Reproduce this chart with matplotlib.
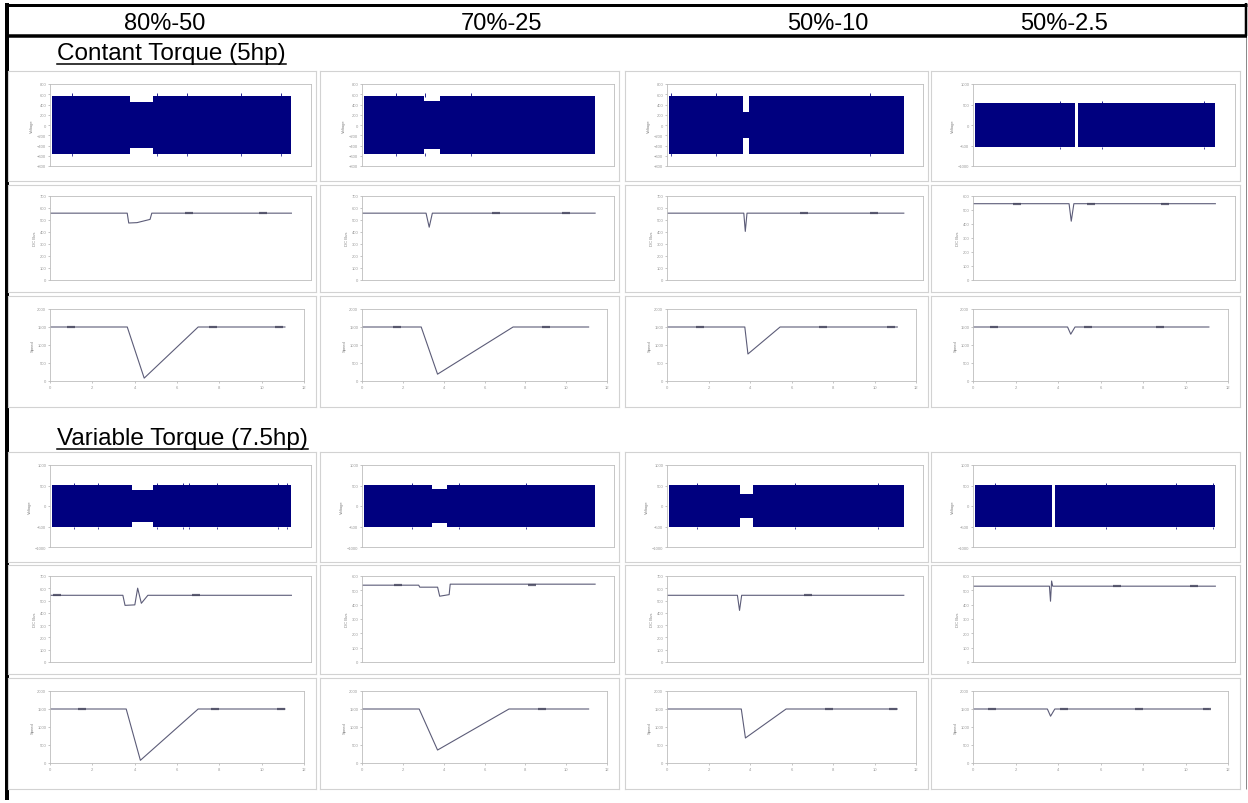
import numpy as np
import matplotlib.pyplot as plt
from matplotlib.lines import Line2D

plt.rcParams['font.family'] = ['Liberation Sans', 'DejaVu Sans']

# ---- data ----
columns = ['80%-50', '70%-25', '50%-10', '50%-2.5']
sections = ['Contant Torque (5hp)', 'Variable Torque (7.5hp)']
row_labels = ['Voltage', 'DC Bus', 'Speed']
t_end = 11.1

# row 1: line voltage envelope (normal amplitude, sag window, amplitude in sag)
ct_v_amp = [560, 560, 560, 540]
ct_v_sag = [440, 470, 250, 0]
ct_v_win = [(3.66, 4.72), (2.95, 3.7), (3.57, 3.86), (4.67, 4.8)]
ct_v_ticks = [[-800, -600, -400, -200, 0, 200, 400, 600, 800]] * 3 + [[-1000, -500, 0, 500, 1000]]
ct_v_spikes = [[1.0, 4.9, 6.3, 8.8, 10.6], [1.6, 3.0, 5.2], [0.2, 2.3, 9.5], [4.0, 5.9, 10.6]]

vt_v_amp = [510, 510, 510, 510]
vt_v_sag = [400, 420, 300, 0]
vt_v_win = [(3.75, 4.72), (3.33, 4.05), (3.4, 4.05), (3.62, 3.76)]
vt_v_ticks = [[-1000, -500, 0, 500, 1000]] * 4
vt_v_spikes = [[1.1, 2.2, 4.9, 6.1, 6.4, 7.7, 10.5, 10.9], [2.4, 4.6, 7.8], [1.4, 6.0, 9.9],
               [1.0, 6.1, 9.3, 11.0]]

# row 2: dc bus (t, value)
ct_bus_t = [[0, 3.55, 3.62, 4.0, 4.6, 4.68, t_end],
            [0, 3.05, 3.2, 3.35, t_end],
            [0, 3.6, 3.67, 3.75, t_end],
            [0, 4.4, 4.5, 4.62, t_end]]
ct_bus_v = [[557, 557, 475, 478, 505, 557, 557],
            [557, 557, 440, 557, 557],
            [557, 557, 405, 557, 557],
            [545, 545, 420, 545, 545]]
ct_bus_ticks = [[0, 100, 200, 300, 400, 500, 600, 700]] * 3 + [[0, 100, 200, 300, 400, 500, 600]]
ct_bus_blobs = [[6.4, 9.8], [6.4, 9.7], [6.4, 9.7], [2.0, 5.4, 8.8]]

vt_bus_t = [[0, 3.35, 3.45, 3.9, 4.03, 4.2, 4.5, t_end],
            [0, 2.7, 2.75, 3.6, 3.7, 4.15, 4.2, t_end],
            [0, 3.3, 3.4, 3.5, t_end],
            [0, 3.5, 3.55, 3.6, 3.65, t_end]]
vt_bus_v = [[543, 543, 461, 465, 601, 478, 543, 543],
            [536, 536, 522, 522, 459, 470, 543, 543],
            [543, 543, 420, 543, 543],
            [529, 529, 424, 565, 529, 529]]
vt_bus_ticks = [[0, 100, 200, 300, 400, 500, 600, 700], [0, 100, 200, 300, 400, 500, 600],
                [0, 100, 200, 300, 400, 500, 600, 700], [0, 100, 200, 300, 400, 500, 600]]
vt_bus_blobs = [[0.3, 6.7], [1.7, 8.1], [6.6], [6.6, 10.1]]

# row 3: speed (t, value)
ct_spd_t = [[0, 3.65, 4.45, 7.0, t_end],
            [0, 2.9, 3.7, 7.4, t_end],
            [0, 3.75, 3.9, 5.45, t_end],
            [0, 4.45, 4.6, 4.8, t_end]]
ct_spd_v = [[1500, 1500, 80, 1500, 1500],
            [1500, 1500, 190, 1500, 1500],
            [1500, 1500, 750, 1500, 1500],
            [1500, 1500, 1300, 1500, 1500]]
ct_spd_blobs = [[1.0, 7.7, 10.8], [1.7, 9.0], [1.6, 7.5, 10.8], [1.0, 5.4, 8.8]]

vt_spd_t = [[0, 3.6, 4.27, 7.0, t_end],
            [0, 2.8, 3.7, 7.2, t_end],
            [0, 3.58, 3.78, 5.74, t_end],
            [0, 3.5, 3.65, 3.85, t_end]]
vt_spd_v = [[1500, 1500, 75, 1500, 1500],
            [1500, 1500, 360, 1500, 1500],
            [1500, 1500, 695, 1500, 1500],
            [1500, 1500, 1300, 1500, 1500]]
vt_spd_blobs = [[1.5, 7.8, 10.9], [8.8], [7.8, 10.9], [0.9, 4.3, 7.8, 11.0]]

spd_ticks = [0, 500, 1000, 1500, 2000]
time_ticks = [0, 2, 4, 6, 8, 10, 12]

# ---- layout (pixels) ----
W, H = 1248, 804
fig = plt.figure(figsize=(W / 100, H / 100), dpi=100)
fig.patch.set_facecolor('white')


def px_axes(x0, y0, x1, y1, **kw):
    return fig.add_axes([x0 / W, 1 - y1 / H, (x1 - x0) / W, (y1 - y0) / H], **kw)


def hline(x0, x1, y, w, z=5):
    fig.add_artist(Line2D([x0 / W, x1 / W], [1 - y / H] * 2, lw=w * 0.72, color='black',
                          solid_capstyle='butt', zorder=z))


def vline(x, y0, y1, w, z=5, color='black'):
    fig.add_artist(Line2D([x / W] * 2, [1 - y0 / H, 1 - y1 / H], lw=w * 0.72, color=color,
                          solid_capstyle='butt', zorder=z))


navy = '#00007f'
trace = '#5c5c78'
blob = '#44445c'
panel_x = [(8, 316), (320, 619), (625, 928), (931, 1240)]
sec_rows = [[(72, 182), (186, 293), (297, 408)], [(453, 563), (566, 675), (679, 790)]]
label_y = [60, 445]

# table borders
hline(5, 1247, 5.5, 3)
hline(5, 1247, 36.5, 3.5)
vline(7, 4, 801, 4, z=-1)
vline(1245.5, 37, 790, 1.0, z=-1, color='#8a8a8a')
vline(1246, 4, 37, 2.5)

header_x = [165, 502, 828, 1064]
for name, x in zip(columns, header_x):
    fig.text(x / W, 1 - 29.5 / H, name, fontsize=17, ha='center', va='baseline')

sec_data = [
    (ct_v_amp, ct_v_sag, ct_v_win, ct_v_ticks, ct_v_spikes, ct_bus_t, ct_bus_v, ct_bus_ticks,
     ct_bus_blobs, ct_spd_t, ct_spd_v, ct_spd_blobs),
    (vt_v_amp, vt_v_sag, vt_v_win, vt_v_ticks, vt_v_spikes, vt_bus_t, vt_bus_v, vt_bus_ticks,
     vt_bus_blobs, vt_spd_t, vt_spd_v, vt_spd_blobs),
]


def style_plot(ax):
    for s in ax.spines.values():
        s.set_color('#bdbdbd')
        s.set_linewidth(0.6)
    ax.tick_params(labelsize=3, colors='#9a9a9a', length=1.2, width=0.4, pad=1.5)
    ax.set_xlim(0, 12)


renderer = fig.canvas.get_renderer()
for si, sec in enumerate(sections):
    (v_amp, v_sag, v_win, v_ticks, v_spk, b_t, b_v, b_ticks, b_blobs, s_t, s_v, s_blobs) = sec_data[si]
    txt = fig.text(57 / W, 1 - label_y[si] / H, sec, fontsize=17.5, ha='left', va='baseline')
    bb = txt.get_window_extent(renderer=renderer)
    fig.add_artist(Line2D([bb.x0 / W, bb.x1 / W], [1 - (label_y[si] + 5) / H] * 2,
                          lw=1.1, color='black', zorder=5))

    for ci in range(4):
        x0, x1 = panel_x[ci]
        for ri, (y0, y1) in enumerate(sec_rows[si]):
            frame = px_axes(x0, y0, x1, y1)
            frame.set_xticks([])
            frame.set_yticks([])
            for s in frame.spines.values():
                s.set_color('#d2d2d2')
                s.set_linewidth(0.8)
            if ri == 0:
                ax = px_axes(x0 + 42, y0 + 13, x1 - 5, y1 - 15)
                a, sa = v_amp[ci], v_sag[ci]
                ws, we = v_win[ci]
                tt = [0.1, ws, ws, we, we, t_end]
                env = [a, a, sa, sa, a, a]
                ax.fill_between(tt, [-e for e in env], env, color=navy, lw=0)
                ax.vlines(v_spk[ci], a - 5, a + 55, color=navy, lw=0.6)
                ax.vlines(v_spk[ci], -a - 45, -a + 5, color=navy, lw=0.5)
                ax.set_yticks(v_ticks[ci])
                ax.set_ylim(v_ticks[ci][0], v_ticks[ci][-1])
                ax.set_xticks([])
            elif ri == 1:
                ax = px_axes(x0 + 42, y0 + 11, x1 - 5, y1 - 12)
                ax.plot(b_t[ci], b_v[ci], color=trace, lw=0.8)
                ax.plot(b_blobs[ci], [b_v[ci][0]] * len(b_blobs[ci]), ls='none', marker='_',
                        ms=6, mew=1.6, color=blob, alpha=0.8)
                ax.set_yticks(b_ticks[ci])
                ax.set_ylim(b_ticks[ci][0], b_ticks[ci][-1])
                ax.set_xticks([])
            else:
                ax = px_axes(x0 + 42, y0 + 13, x1 - 12, y1 - 26)
                ax.plot(s_t[ci], s_v[ci], color=trace, lw=0.8)
                ax.plot(s_blobs[ci], [s_v[ci][0]] * len(s_blobs[ci]), ls='none', marker='_',
                        ms=6, mew=1.6, color=blob, alpha=0.8)
                ax.set_yticks(spd_ticks)
                ax.set_ylim(0, 2000)
                ax.set_xticks(time_ticks)
            style_plot(ax)
            ax.set_ylabel(row_labels[ri], fontsize=3, color='#808080', labelpad=2)

fig.savefig('out.png', dpi=100, facecolor='white')
